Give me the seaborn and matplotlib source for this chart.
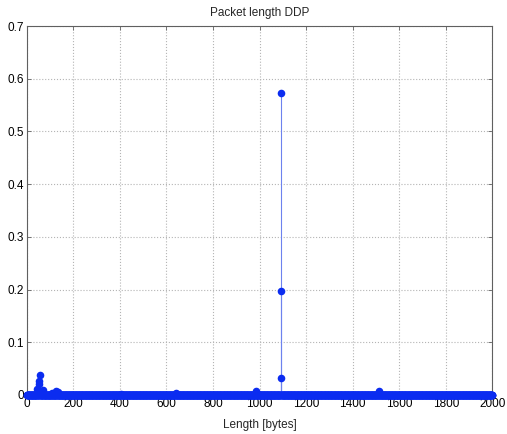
import numpy as np
import pandas as pd
import matplotlib
matplotlib.use("Agg")
import matplotlib.pyplot as plt
import seaborn as sns

# packet lengths 0..2000, almost all with probability ~0
LENGTHS = np.arange(0, 2001)
PEAK_LENGTHS = [44, 50, 53, 56, 70, 110, 127, 135, 405, 640, 984, 1092, 1093, 1094, 1512]
PEAK_PROBS = [0.012, 0.020, 0.027, 0.037, 0.010, 0.004, 0.008, 0.005, 0.002, 0.004,
              0.008, 0.032, 0.197, 0.572, 0.007]

X_TICKS = [0, 200, 400, 600, 800, 1000, 1200, 1400, 1600, 1800, 2000]
Y_TICKS = [0, 0.1, 0.2, 0.3, 0.4, 0.5, 0.6, 0.7]

BLUE = "#0b2cf0"


def build_data():
    prob = np.zeros(len(LENGTHS))
    for l, p in zip(PEAK_LENGTHS, PEAK_PROBS):
        prob[l] = p
    return pd.DataFrame({"length": LENGTHS, "prob": prob})


def main():
    sns.set_theme(style="white")
    plt.rcParams["font.family"] = ["Liberation Sans", "DejaVu Sans"]

    df = build_data()

    fig = plt.figure(figsize=(5.07, 4.34), dpi=100)
    ax = fig.add_axes([0.053, 0.09, 0.918, 0.85])

    # stems (only non-zero ones matter, thin and light like matlab's stem)
    nz = df[df["prob"] > 0]
    ax.vlines(nz["length"], 0, nz["prob"], color="#6d82ee", linewidth=0.8, zorder=2)
    sns.scatterplot(data=df, x="length", y="prob", ax=ax, color=BLUE,
                    s=30, edgecolor=BLUE, linewidth=0, zorder=3, clip_on=False)

    ax.set_xlim(0, 2000)
    ax.set_ylim(0, 0.7)
    ax.set_xticks(X_TICKS)
    ax.set_yticks(Y_TICKS)
    ax.set_yticklabels([f"{v:g}" for v in Y_TICKS])

    ax.grid(True, linestyle=":", color="#b4b4b4", linewidth=0.8)
    for s in ax.spines.values():
        s.set_color("#606060")
        s.set_linewidth(0.8)
    ax.tick_params(direction="in", length=3, width=0.6, colors="#606060",
                   labelcolor="black", labelsize=8.5, pad=2,
                   top=True, right=True, bottom=True, left=True)

    ax.set_title("Packet length DDP", fontsize=8.5, pad=7)
    ax.set_xlabel("Length [bytes]", fontsize=8.5, labelpad=7)
    ax.set_ylabel("")

    fig.savefig("out.png", dpi=100)
    plt.close(fig)


if __name__ == "__main__":
    main()
